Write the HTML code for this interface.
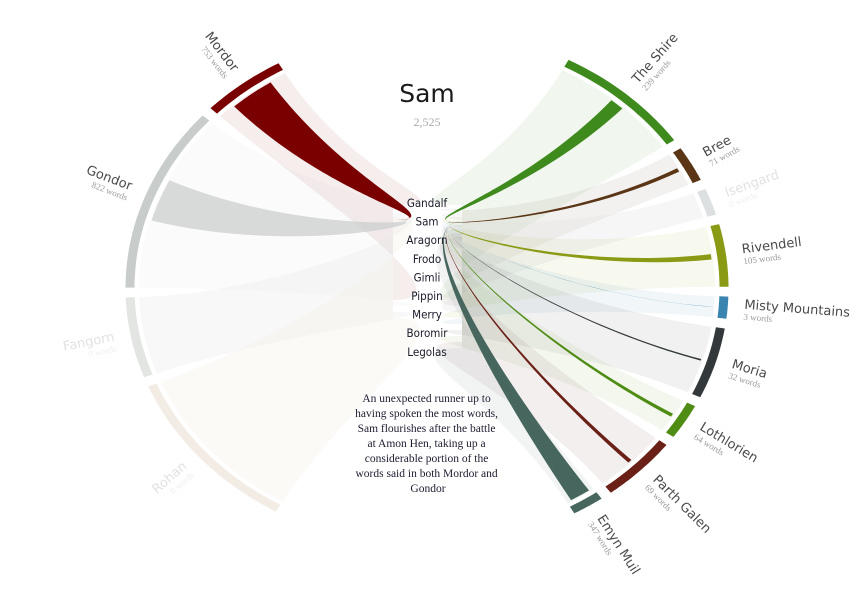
<!DOCTYPE html>
<html><head><meta charset="utf-8">
<style>
html,body{margin:0;padding:0;background:#fff;}
svg{display:block;}
.lbl{font-family:"DejaVu Sans",sans-serif;font-size:13px;fill:#4a4a4a;}
.sub{font-family:"Liberation Serif",serif;font-size:9px;fill:#9a9a9a;}
.char{font-family:"DejaVu Sans Condensed","DejaVu Sans",sans-serif;font-size:11.5px;fill:#1a1a2a;}
</style></head>
<body>
<svg id="chart" width="858" height="600" viewBox="0 0 858 600">
  <g id="fills"></g>
  <g id="ribbons"></g>
  <g id="arcs"></g>
  <g id="labels"></g>
  <text x="427" y="102" text-anchor="middle" font-family="DejaVu Sans,sans-serif" font-size="25" fill="#1a1a1a">Sam</text>
  <text x="427" y="126" text-anchor="middle" font-family="Liberation Serif,serif" font-size="12" fill="#aaa">2,525</text>
  <g id="chars"></g>
  <text font-family="Liberation Serif,serif" font-size="11.5" fill="#1c1c30" text-anchor="middle">
    <tspan x="428" y="402">An unexpected runner up to</tspan>
    <tspan x="428" y="417">having spoken the most words,</tspan>
    <tspan x="428" y="432">Sam flourishes after the battle</tspan>
    <tspan x="428" y="447">at Amon Hen, taking up a</tspan>
    <tspan x="428" y="462">considerable portion of the</tspan>
    <tspan x="428" y="477">words said in both Mordor and</tspan>
    <tspan x="428" y="492">Gondor</tspan>
  </text>
</svg>
<script>
// ---- data ----
const leftLocations = ["Mordor","Gondor","Fangorn","Rohan"];
const leftTotals = [1333,3400,1470,3050];
const leftSamWords = [753,822,0,0];
const leftColors = ["#7a0000","#c8cccb","#e2e5e2","#f3ece4"];
const leftFaint = [false,false,true,true];

const rightLocations = ["The Shire","Bree","Isengard","Rivendell","Misty Mountains","Moria","Lothlorien","Parth Galen","Emyn Muil"];
const rightTotals = [2200,650,490,1140,400,1300,650,1220,500];
const rightSamWords = [239,71,0,105,3,32,64,69,347];
const rightColors = ["#3f8a1d","#5a3516","#dde0e1","#8a9a14","#3a84b0","#33393a","#4f8c14","#6a2016","#46665e"];
const rightFaint = [false,false,true,false,false,false,false,false,false];

const characters = ["Gandalf","Sam","Aragorn","Frodo","Gimli","Pippin","Merry","Boromir","Legolas"];

// ---- geometry ----
const cx=427, cy=288, rx=300, ry=257;
const degPerWord=0.0123, gap=2.2, pxPerWord=0.06;
function pt(tDeg,s){const t=tDeg*Math.PI/180;return [cx+rx*s*Math.sin(t), cy-ry*s*Math.cos(t)];}
function f(p){return p[0].toFixed(1)+","+p[1].toFixed(1);}
function arcPts(t0,t1,s){const n=24,a=[];for(let i=0;i<=n;i++)a.push(pt(t0+(t1-t0)*i/n,s));return a;}
const NS="http://www.w3.org/2000/svg";
function mk(tag,parent){const e=document.createElementNS(NS,tag);document.getElementById(parent).appendChild(e);return e;}

function drawSide(names,totals,sam,colors,faint,startDeg,dir,hub){
  let t=startDeg;
  names.forEach((name,i)=>{
    const span=totals[i]*degPerWord;
    const t0=t, t1=t+dir*span;
    t=t1+dir*gap;
    const mid=(t0+t1)/2;
    const outer=arcPts(t0,t1,1.005), inner=arcPts(t1,t0,0.975);
    const arc=mk("path","arcs");
    arc.setAttribute("d","M"+outer.map(f).join("L")+"L"+inner.map(f).join("L")+"Z");
    arc.setAttribute("fill",colors[i]);
    
    
    // faint fill of all characters
    const a1=pt(t0,0.96), a2=pt(t1,0.96);
    const c1=pt(t0,0.45), c2=pt(t1,0.45);
    const hx=hub.x, hTop=205+i*4, hBot=300+i*6;
    const inn=arcPts(t1,t0,0.96);
    const fl=mk("path","fills");
    fl.setAttribute("d","M"+f(a1)+"C"+f(c1)+" "+f([hx-dir*80,hTop])+" "+f([hx,hTop])+"L"+f([hx,hBot])+"C"+f([hx-dir*80,hBot])+" "+f(c2)+" "+f(a2)+"L"+inn.map(f).join("L")+"Z");
    fl.setAttribute("fill",colors[i]);
    fl.setAttribute("fill-opacity",faint[i]?"0.28":"0.07");
    
    
    if(sam[i]>0){
      const wDeg=sam[i]*pxPerWord/4.9;
      const b0=mid-dir*wDeg/2, b1=mid+dir*wDeg/2;
      const p1=pt(b0,0.955), p2=pt(b1,0.955);
      const q1=pt(b0,0.45), q2=pt(b1,0.45);
      const back=arcPts(b1,b0,0.955);
      const rb=mk("path","ribbons");
      rb.setAttribute("d","M"+f(p1)+"C"+f(q1)+" "+f([hub.x-dir*60,hub.y])+" "+f([hub.x,hub.y])+"C"+f([hub.x-dir*60,hub.y])+" "+f(q2)+" "+f(p2)+"L"+back.map(f).join("L")+"Z");
      rb.setAttribute("fill",colors[i]);
      rb.setAttribute("fill-opacity",name==="Gondor"?"0.7":"1");
      
      
    }
    const lp=pt(mid,1.06);
    const rot = dir>0 ? mid-90 : mid+90;
    const g=mk("g","labels");
    g.setAttribute("transform","translate("+f(lp)+") rotate("+rot.toFixed(1)+")");
    
    
    const anchor = dir>0 ? "start":"end";
    const tx=document.createElementNS(NS,"text");g.appendChild(tx);
    tx.setAttribute("class","lbl");tx.setAttribute("text-anchor",anchor);tx.setAttribute("y","0");
    if(faint[i]) tx.setAttribute("style","fill:#e2e2e2");
    tx.textContent=name;
    
    
    const sx=document.createElementNS(NS,"text");g.appendChild(sx);
    sx.setAttribute("class","sub");sx.setAttribute("text-anchor",anchor);sx.setAttribute("y","11");
    if(faint[i]) sx.setAttribute("style","fill:#eeeeee");
    sx.textContent=sam[i]+" words";
    
    
  });
}
drawSide(leftLocations,leftTotals,leftSamWords,leftColors,leftFaint,-29.5,-1,{x:393,y:220});
drawSide(rightLocations,rightTotals,rightSamWords,rightColors,rightFaint,28,1,{x:462,y:222});

characters.forEach((c,i)=>{
  const t=mk("text","chars");
  t.setAttribute("x","427");t.setAttribute("y",(207+i*18.6).toFixed(1));
  t.setAttribute("text-anchor","middle");t.setAttribute("class","char");
  t.textContent=c;
  
  
});
</script>
</body></html>
